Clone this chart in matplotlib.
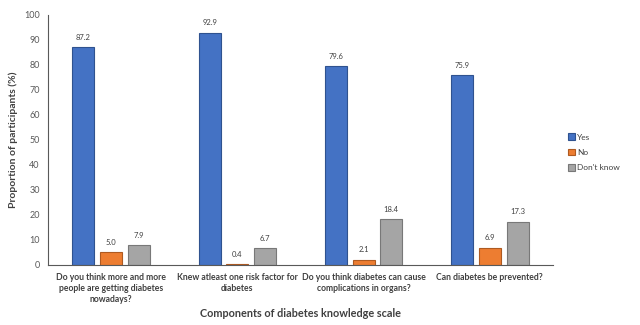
import numpy as np
import matplotlib.pyplot as plt

categories = ["Do you think more and more\npeople are getting diabetes\nnowadays?",
              "Knew atleast one risk factor for\ndiabetes",
              "Do you think diabetes can cause\ncomplications in organs?",
              "Can diabetes be prevented?"]
yes = [87.2, 92.9, 79.6, 75.9]
no = [5.0, 0.4, 2.1, 6.9]
dont_know = [7.9, 6.7, 18.4, 17.3]
series_names = ["Yes", "No", "Don't know"]

plt.rcParams['font.family'] = ['Lato', 'DejaVu Sans']

fig = plt.figure(figsize=(6.4, 3.25), dpi=100)
ax = fig.add_axes([0.075, 0.185, 0.789, 0.769])

x = np.arange(len(categories))
w = 0.175
off = 0.22
colors = ['#4472C4', '#ED7D31', '#A5A5A5']
edges = ['#2F528F', '#AE5A21', '#787878']
for i, (vals, name) in enumerate(zip([yes, no, dont_know], series_names)):
    bars = ax.bar(x + (i - 1) * off, vals, w, color=colors[i], edgecolor=edges[i],
                  linewidth=0.8, label=name)
    for b, v in zip(bars, vals):
        ax.text(b.get_x() + b.get_width() / 2, v + 2.5, "%.1f" % v, ha='center',
                va='bottom', fontsize=5.5, color='#404040')

ax.set_xlim(-0.5, 3.5)
ax.set_ylim(0, 100)
ax.set_yticks(range(0, 101, 10))
ax.set_xticks(x)
ax.set_xticklabels(categories, fontsize=6.2, fontweight='bold', color='#404040',
                   linespacing=1.25)
ax.tick_params(axis='y', labelsize=6.5, colors='#595959', length=0, pad=6)
ax.tick_params(axis='x', length=0, pad=6)
for s in ['top', 'right']:
    ax.spines[s].set_visible(False)
ax.spines['left'].set_color('#595959')
ax.spines['bottom'].set_color('#595959')

ax.set_ylabel("Proportion of participants (%)", fontsize=7.5, fontweight='bold',
              color='#404040', labelpad=4)
ax.set_xlabel("Components of diabetes knowledge scale", fontsize=7.8, fontweight='bold',
              color='#404040', labelpad=3)

ax.legend(loc='center left', bbox_to_anchor=(1.015, 0.45), frameon=False, fontsize=6,
          handlelength=0.8, handleheight=0.8, handletextpad=0.3, labelspacing=1.0,
          labelcolor='#404040')

fig.savefig("out.png", dpi=100)
